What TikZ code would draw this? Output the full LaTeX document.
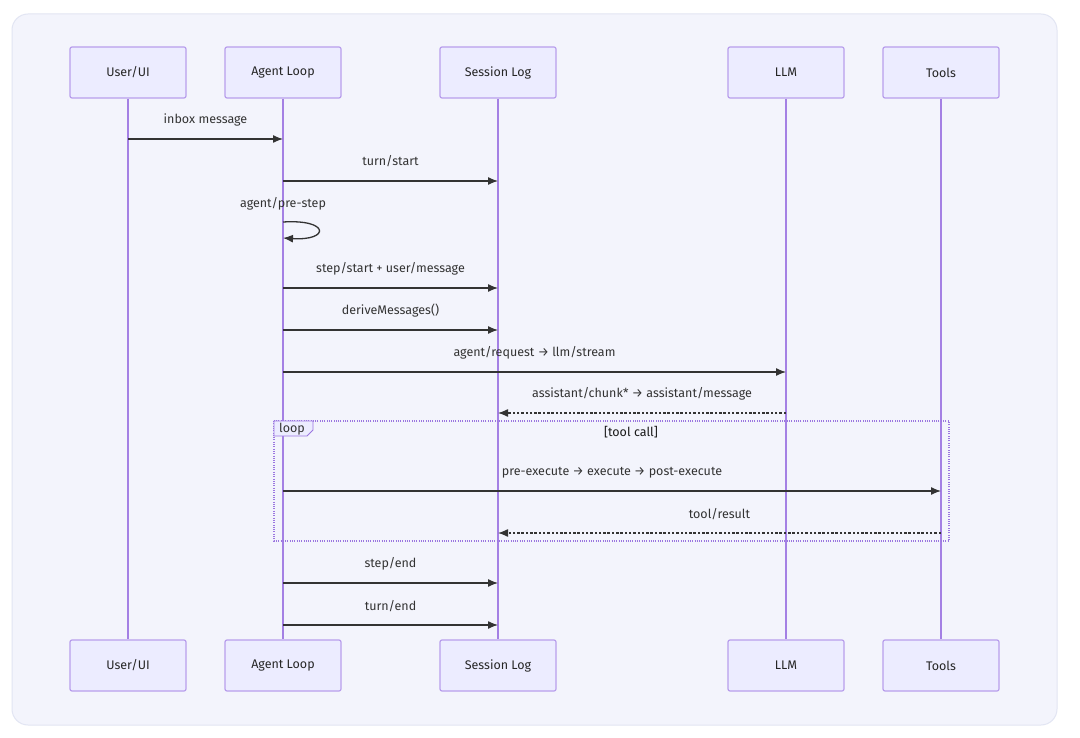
\documentclass[tikz,border=0pt]{standalone}
\usepackage{fontspec}
\setmainfont{Fira Sans}
\usetikzlibrary{arrows.meta,calc}
\definecolor{bgfill}{RGB}{243,244,252}
\definecolor{bgline}{RGB}{226,229,243}
\definecolor{actfill}{RGB}{236,236,255}
\definecolor{actline}{RGB}{184,158,236}
\definecolor{life}{RGB}{164,128,228}
\definecolor{msgc}{RGB}{51,51,51}
\definecolor{loopc}{RGB}{155,118,224}
\tikzset{
  actor/.style={draw=actline, fill=actfill, line width=1.2pt, rounded corners=2pt,
    minimum width=116pt, minimum height=51pt, inner sep=0pt, font=\fontsize{12.5}{14}\selectfont, text=black!85},
  lifeline/.style={draw=life, line width=1.8pt},
  msg/.style={draw=msgc, line width=1.3pt, -{Latex[length=10pt,width=8pt]}},
  reply/.style={msg, dash pattern=on 2.5pt off 1.8pt},
  lbl/.style={font=\fontsize{12.5}{14}\selectfont, text=black!80, inner sep=0pt},
  loopbox/.style={draw=loopc, line width=1.2pt, dash pattern=on 1pt off 1.3pt},
}
\begin{document}
\begin{tikzpicture}[x=1pt,y=-1pt]
\useasboundingbox (0,0) rectangle (1080,738);
\fill[white] (0,0) rectangle (1080,738);
\draw[bgline, fill=bgfill, line width=1pt, rounded corners=16pt] (12,14) rectangle (1057,725);

% actors
\node[actor] (uTop) at (128,72.5) {User/UI};
\node[actor] (aTop) at (283,72.5) {Agent Loop};
\node[actor] (sTop) at (498,72.5) {Session Log};
\node[actor] (lTop) at (786,72.5) {LLM};
\node[actor] (tTop) at (941,72.5) {Tools};
\node[actor] (uBot) at (128,665.5) {User/UI};
\node[actor] (aBot) at (283,665.5) {Agent Loop};
\node[actor] (sBot) at (498,665.5) {Session Log};
\node[actor] (lBot) at (786,665.5) {LLM};
\node[actor] (tBot) at (941,665.5) {Tools};

% lifelines
\foreach \n in {u,a,s,l,t}{
  \draw[lifeline] (\n Top.south) -- (\n Bot.north);
}

% loop box
\draw[loopbox] (274,421) rectangle (949,541);
\draw[draw=loopc, fill=actfill, line width=0.8pt] (274,421) -- (313,421) -- (313,430) -- (307,436) -- (274,436) -- cycle;
\node[lbl] (loopLbl) at (292,429) {loop};
\node[lbl, text=black!90] (loopCond) at (631,432) {[tool call]};

% message anchor coordinates
\coordinate (m1a) at (uTop |- 0,139);  \coordinate (m1b) at (aTop |- 0,139);
\coordinate (m2a) at (aTop |- 0,181);  \coordinate (m2b) at (sTop |- 0,181);
\coordinate (m3a) at (aTop |- 0,222);  \coordinate (m3b) at (aTop |- 0,238);
\coordinate (m4a) at (aTop |- 0,288);  \coordinate (m4b) at (sTop |- 0,288);
\coordinate (m5a) at (aTop |- 0,330);  \coordinate (m5b) at (sTop |- 0,330);
\coordinate (m6a) at (aTop |- 0,372);  \coordinate (m6b) at (lTop |- 0,372);
\coordinate (m7a) at (lTop |- 0,413);  \coordinate (m7b) at (sTop |- 0,413);
\coordinate (m8a) at (aTop |- 0,491);  \coordinate (m8b) at (tTop |- 0,491);
\coordinate (m9a) at (tTop |- 0,533);  \coordinate (m9b) at (sTop |- 0,533);
\coordinate (m10a) at (aTop |- 0,583); \coordinate (m10b) at (sTop |- 0,583);
\coordinate (m11a) at (aTop |- 0,625); \coordinate (m11b) at (sTop |- 0,625);

% messages
\draw[msg] (m1a) -- node[lbl, midway, yshift=19pt] {inbox message} (m1b);
\draw[msg] (m2a) -- node[lbl, midway, yshift=20pt] {turn/start} (m2b);
\node[lbl] (preStep) at (283,204) {agent/pre-step};
\draw[msg] (m3a) .. controls (330,219) and (330,241) .. (m3b);
\draw[msg] (m4a) -- node[lbl, midway, yshift=19pt] {step/start + user/message} (m4b);
\draw[msg] (m5a) -- node[lbl, midway, yshift=19pt] {deriveMessages()} (m5b);
\draw[msg] (m6a) -- node[lbl, midway, yshift=19pt] {agent/request → llm/stream} (m6b);
\draw[reply] (m7a) -- node[lbl, midway, yshift=19pt] {assistant/chunk* → assistant/message} (m7b);
\draw[msg] (m8a) -- node[lbl, midway, yshift=18pt] {pre-execute → execute → post-execute} (m8b);
\draw[reply] (m9a) -- node[lbl, midway, yshift=19pt] {tool/result} (m9b);
\draw[msg] (m10a) -- node[lbl, midway, yshift=19pt] {step/end} (m10b);
\draw[msg] (m11a) -- node[lbl, midway, yshift=19pt] {turn/end} (m11b);
\end{tikzpicture}
\end{document}
